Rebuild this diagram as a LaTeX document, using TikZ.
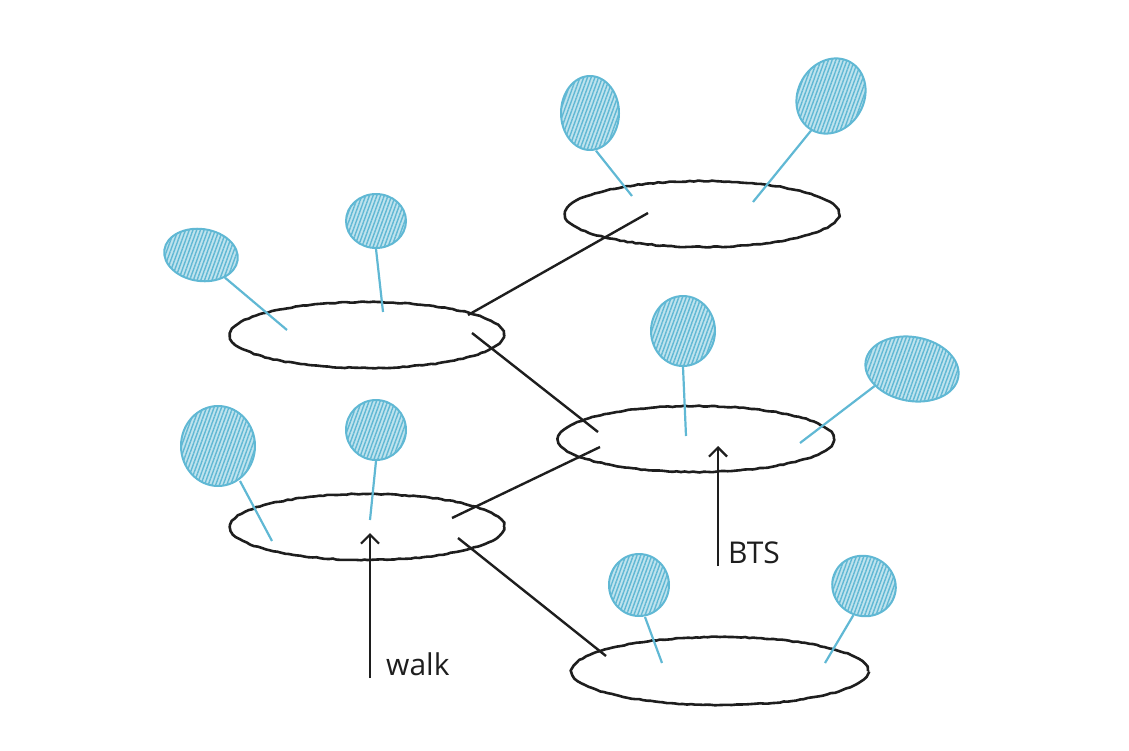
\documentclass[tikz,border=0pt]{standalone}
\usepackage{fontspec}
\setmainfont{Open Sans}
\usetikzlibrary{shapes.geometric,patterns.meta,decorations.pathmorphing,arrows.meta}
\definecolor{sky}{RGB}{96,184,212}
\definecolor{pencil}{RGB}{30,30,30}
\tikzset{
  sketch/.style={decorate,decoration={random steps,segment length=4pt,amplitude=0.5pt}},
  ring/.style={ellipse,draw=pencil,line width=2.6pt,sketch,inner sep=0pt},
  balloon/.style={ellipse,draw=sky,line width=2pt,inner sep=0pt,
    preaction={fill=sky!40},pattern={Lines[angle=70,distance=3.5pt,line width=1.4pt]},pattern color=sky},
  stick/.style={draw=sky,line width=2.2pt},
  link/.style={draw=pencil,line width=2.4pt},
  pointer/.style={draw=pencil,line width=2.4pt,-{Straight Barb[length=9pt,width=18pt,line width=2.2pt]}},
  tag/.style={font=\fontsize{30}{32}\selectfont,text=pencil,anchor=west,inner sep=0pt}
}
\begin{document}
\begin{tikzpicture}[x=1pt,y=-1pt]
\useasboundingbox (0,0) rectangle (1129,750);
% rings
\node[ring,minimum width=274pt,minimum height=66pt] (E1) at (702,214) {};
\node[ring,minimum width=274pt,minimum height=66pt] (E2) at (367,335) {};
\node[ring,minimum width=276pt,minimum height=66pt] (E3) at (696,439) {};
\node[ring,minimum width=274pt,minimum height=66pt] (E4) at (367,527) {};
\node[ring,minimum width=296pt,minimum height=68pt] (E5) at (720,671) {};
% link ends
\coordinate (l1a) at (468,315); \coordinate (l1b) at (648,213);
\coordinate (l2a) at (472,333); \coordinate (l2b) at (598,432);
\coordinate (l3a) at (452,518); \coordinate (l3b) at (600,447);
\coordinate (l4a) at (458,538); \coordinate (l4b) at (606,656);
\draw[link] (l1a) -- (l1b);
\draw[link] (l2a) -- (l2b);
\draw[link] (l3a) -- (l3b);
\draw[link] (l4a) -- (l4b);
% balloons
\node[balloon,minimum width=58pt,minimum height=74pt] (B1) at (590,113) {};
\node[balloon,minimum width=66pt,minimum height=78pt,rotate=-30] (B2) at (831,96) {};
\node[balloon,minimum width=74pt,minimum height=52pt,rotate=-8] (B3) at (201,255) {};
\node[balloon,minimum width=60pt,minimum height=54pt] (B4) at (376,221) {};
\node[balloon,minimum width=64pt,minimum height=70pt] (B5) at (683,331) {};
\node[balloon,minimum width=94pt,minimum height=64pt,rotate=-10] (B6) at (912,369) {};
\node[balloon,minimum width=74pt,minimum height=80pt] (B7) at (218,446) {};
\node[balloon,minimum width=60pt,minimum height=60pt] (B8) at (376,430) {};
\node[balloon,minimum width=60pt,minimum height=62pt] (B9) at (639,585) {};
\node[balloon,minimum width=64pt,minimum height=60pt,rotate=-20] (B10) at (864,586) {};
% stick ends
\coordinate (s1) at (632,196);
\coordinate (s2) at (753,202);
\coordinate (s3) at (287,330);
\coordinate (s4) at (383,312);
\coordinate (s5) at (686,436);
\coordinate (s6) at (800,443);
\coordinate (s7) at (272,541);
\coordinate (s8) at (370,520);
\coordinate (s9) at (662,663);
\coordinate (s10) at (825,663);
\draw[stick] (B1.south) ++(6,0) -- (s1);
\draw[stick] (B2.south) -- (s2);
\draw[stick] (B3.south east) -- (s3);
\draw[stick] (B4.south) -- (s4);
\draw[stick] (B5.south) -- (s5);
\draw[stick] (B6.south west) -- (s6);
\draw[stick] (B7.south) ++(22,-6) -- (s7);
\draw[stick] (B8.south) -- (s8);
\draw[stick] (B9.south) ++(6,0) -- (s9);
\draw[stick] (B10.south) -- (s10);
% pointers
\coordinate (w0) at (370,678); \coordinate (w1) at (370,533);
\coordinate (b0) at (718,566); \coordinate (b1) at (718,446);
\draw[pointer] (w0) -- (w1);
\draw[pointer] (b0) -- (b1);
\node[tag] (walk) at (386,664) {walk};
\node[tag] (bts) at (728,553) {BTS};
\end{tikzpicture}
\end{document}
